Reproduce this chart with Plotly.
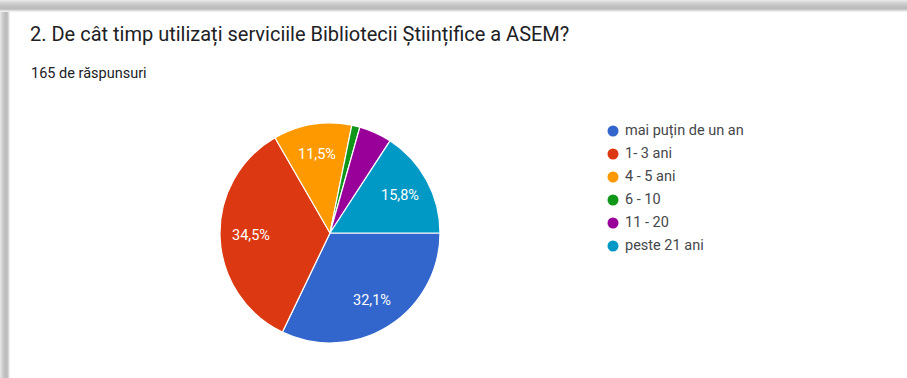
import math
import plotly.graph_objects as go

categories = ["mai puțin de un an", "1- 3 ani", "4 - 5 ani", "6 - 10", "11 - 20", "peste 21 ani"]
values = [32.1, 34.5, 11.5, 1.2, 4.8, 15.8]
labels_text = ["32,1%", "34,5%", "11,5%", "", "", "15,8%"]
colors = ["#3366cc", "#dc3912", "#ff9900", "#109618", "#990099", "#0099c6"]

W, H = 907, 378
cx, cy, r = 330, 233, 110
FONT = "Roboto, Arial"

fig = go.Figure()
fig.add_trace(go.Pie(
    labels=categories, values=values,
    textinfo="none",
    marker=dict(colors=colors, line=dict(color="white", width=1.2)),
    sort=False, direction="clockwise", rotation=90, showlegend=False,
    hoverinfo="label+percent",
    domain=dict(x=[(cx - r) / W, (cx + r) / W], y=[1 - (cy + r) / H, 1 - (cy - r) / H]),
))

# slice labels placed like Google Charts (~0.72 of radius)
total = sum(values)
ann = []
cum = 0.0
for v, t in zip(values, labels_text):
    mid = (cum + v / 2) / total * 2 * math.pi
    cum += v
    if not t:
        continue
    lx = cx + 0.72 * r * math.cos(mid)
    ly = cy + 0.72 * r * math.sin(mid)
    ann.append(dict(text=t, x=lx, y=ly, xref="x", yref="y", showarrow=False,
                    xanchor="center", yanchor="middle",
                    font=dict(size=14.5, color="white", family=FONT)))

# custom legend (circle markers)
leg_x, leg_y0, leg_dy = 613, 131, 23
ly_list = [leg_y0 + i * leg_dy for i in range(len(categories))]
fig.add_trace(go.Scatter(x=[leg_x] * len(categories), y=ly_list, mode="markers",
                         marker=dict(color=colors, size=11, symbol="circle"),
                         hoverinfo="skip", showlegend=False, cliponaxis=False))
fig.add_trace(go.Scatter(x=[leg_x + 12] * len(categories), y=ly_list, mode="text",
                         text=categories, textposition="middle right",
                         textfont=dict(size=14.5, color="#44474a", family=FONT),
                         hoverinfo="skip", showlegend=False, cliponaxis=False))

shapes = []
tops = ["#e6e6e6", "#dedede", "#d6d6d6", "#cfcfcf", "#c9c9c9", "#c4c4c4", "#c0c0c0", "#bdbdbd", "#bcbcbc", "#c6c6c6", "#dcdcdc", "#f0f0f0"]
for i, c in enumerate(tops):
    shapes.append(dict(type="rect", xref="paper", yref="paper", x0=0, x1=1,
                       y0=1 - (i + 1) / H, y1=1 - i / H, fillcolor=c, line=dict(width=0), layer="above"))
lefts = ["#e4e4e4", "#dadada", "#d0d0d0", "#c8c8c8", "#c2c2c2", "#bebebe", "#bcbcbc", "#c4c4c4", "#d8d8d8", "#f0f0f0"]
for i, c in enumerate(lefts):
    shapes.append(dict(type="rect", xref="paper", yref="paper", x0=i / W, x1=(i + 1) / W,
                       y0=0, y1=1 - len(tops) / H, fillcolor=c, line=dict(width=0), layer="above"))

ann += [
    dict(text="2. De cât timp utilizați serviciile Bibliotecii Științifice a ASEM?",
         x=28 / W, y=1 - 35 / H, xref="paper", yref="paper", xanchor="left", yanchor="middle",
         showarrow=False, font=dict(size=20, color="#202124", family=FONT)),
    dict(text="165 de răspunsuri",
         x=29 / W, y=1 - 73 / H, xref="paper", yref="paper", xanchor="left", yanchor="middle",
         showarrow=False, font=dict(size=14.5, color="#202124", family=FONT)),
]

fig.update_layout(
    width=W, height=H, margin=dict(l=0, r=0, t=0, b=0),
    paper_bgcolor="white", plot_bgcolor="rgba(0,0,0,0)",
    xaxis=dict(visible=False, range=[0, W], domain=[0, 1], fixedrange=True),
    yaxis=dict(visible=False, range=[H, 0], domain=[0, 1], fixedrange=True),
    shapes=shapes, annotations=ann, showlegend=False,
)
fig.write_html("out.html")
